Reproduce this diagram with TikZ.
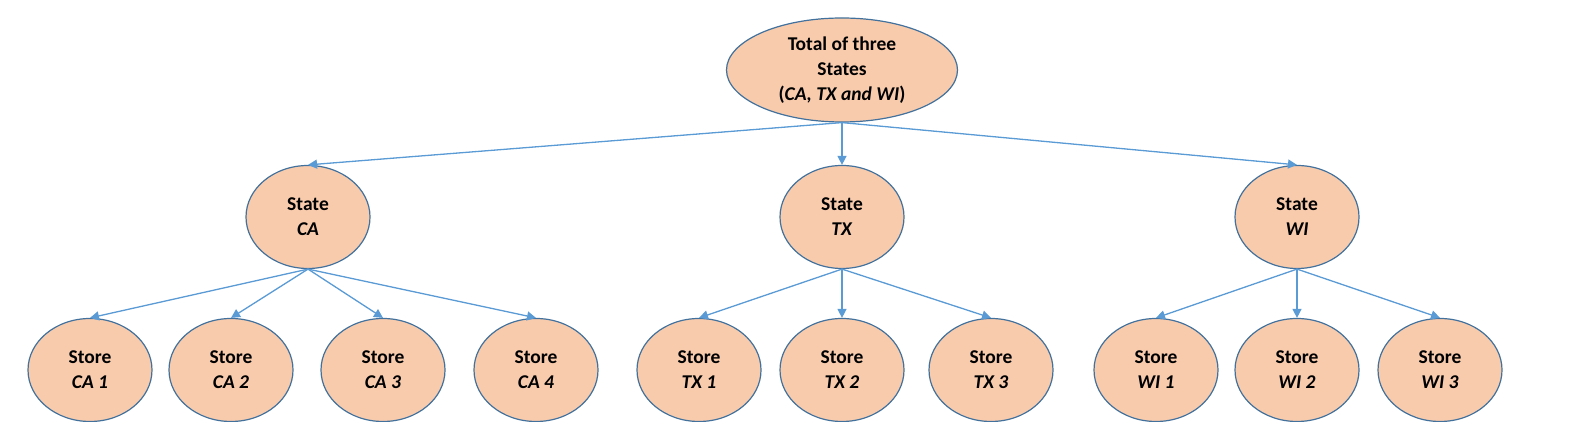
\documentclass[tikz,border=0pt]{standalone}
\usepackage{fontspec}
\setmainfont{Carlito}[BoldFont={Carlito Bold},ItalicFont={Carlito Italic},BoldItalicFont={Carlito Bold Italic}]
\usetikzlibrary{shapes.geometric,arrows.meta}
\definecolor{ovalfill}{HTML}{F8CBAD}
\definecolor{ovalline}{HTML}{41719C}
\definecolor{linkblue}{HTML}{5B9BD5}
\begin{document}
\begin{tikzpicture}[x=1pt,y=1pt,>={Triangle[length=9pt,width=9pt]},line join=round,
		font=\fontsize{19.5}{25}\selectfont\bfseries,
		oval/.style={ellipse,draw=ovalline,fill=ovalfill,line width=1.2pt,inner sep=0pt,
			minimum width=124pt,minimum height=103pt,align=center},
		link/.style={->,draw=linkblue,fill=linkblue,line width=1.3pt}]
	\useasboundingbox (0,0) rectangle (1595,422);
	\node[oval,minimum width=231pt,minimum height=104pt] (total) at (842,352) {Total of three\\States\\(\textbf{\textit{CA, TX and WI}})};
	% states
	\node[oval] (ca) at (308,205) {State\\\textbf{\textit{CA}}};
	\node[oval] (tx) at (842,205) {State\\\textbf{\textit{TX}}};
	\node[oval] (wi) at (1297,205) {State\\\textbf{\textit{WI}}};
	\draw[link] (total.south)--(ca.north);
	\draw[link] (total.south)--(tx.north);
	\draw[link] (total.south)--(wi.north);
	% stores
	\foreach \id/\x/\up/\lbl in {ca1/90/ca/CA 1,ca2/231/ca/CA 2,ca3/383/ca/CA 3,ca4/536/ca/CA 4,
		tx1/699/tx/TX 1,tx2/842/tx/TX 2,tx3/991/tx/TX 3,
		wi1/1156/wi/WI 1,wi2/1297/wi/WI 2,wi3/1440/wi/WI 3}{
		\node[oval] (\id) at (\x,52) {Store\\\textbf{\textit{\lbl}}};
		\draw[link] (\up.south)--(\id.north);
	}
\end{tikzpicture}
\end{document}
